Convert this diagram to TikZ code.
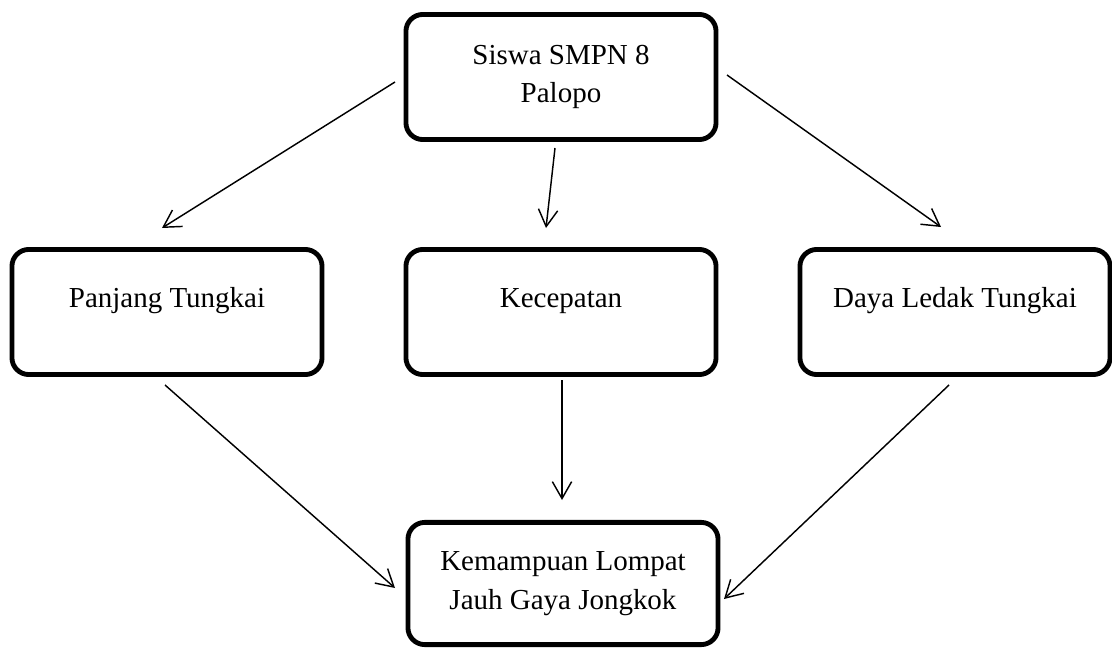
\documentclass[tikz,border=0pt]{standalone}
\usepackage{fontspec}
\setmainfont{Liberation Serif}
\usepackage{tikz}
\usetikzlibrary{arrows.meta}

\begin{document}
\begin{tikzpicture}[x=0.414pt,y=-0.414pt,
    box/.style={draw,line width=2pt,rounded corners=7pt,align=center,
      minimum width=128.4pt,minimum height=51.8pt,inner sep=0pt,
      font=\fontsize{12}{16}\selectfont},
    midbox/.style={box,text height=8.5pt,text depth=12.5pt},
    link/.style={line width=0.6pt,-{Straight Barb[length=7pt,width=8pt]}}]
  \useasboundingbox (0,0) rectangle (1112,648);
  \node[box] (siswa) at (561,77) {Siswa SMPN 8\\Palopo};
  \node[midbox] (panjang) at (167,312) {Panjang Tungkai};
  \node[midbox] (kecepatan) at (561,312) {Kecepatan};
  \node[midbox] (daya) at (955,312) {Daya Ledak Tungkai};
  \node[box,minimum height=50.6pt] (lompat) at (563,583.5) {Kemampuan Lompat\\Jauh Gaya Jongkok};
  % free ends of the arrows
  \coordinate (siswa-l) at (395,82);
  \coordinate (siswa-m) at (555,148);
  \coordinate (siswa-r) at (727,75);
  \coordinate (panjang-t) at (162,228);
  \coordinate (kecepatan-t) at (546,228);
  \coordinate (daya-t) at (941,227);
  \coordinate (panjang-b) at (165,385);
  \coordinate (kecepatan-b) at (562,380);
  \coordinate (daya-b) at (949,385);
  \coordinate (lompat-l) at (395,588);
  \coordinate (lompat-t) at (562,500);
  \coordinate (lompat-r) at (724,599);
  \path[link]
    (siswa-l) edge (panjang-t);
  \path[link]
    (siswa-m) edge (kecepatan-t);
  \path[link]
    (siswa-r) edge (daya-t);
  \path[link]
    (panjang-b) edge (lompat-l);
  \path[link]
    (kecepatan-b) edge (lompat-t);
  \path[link]
    (daya-b) edge (lompat-r);
\end{tikzpicture}
\end{document}
